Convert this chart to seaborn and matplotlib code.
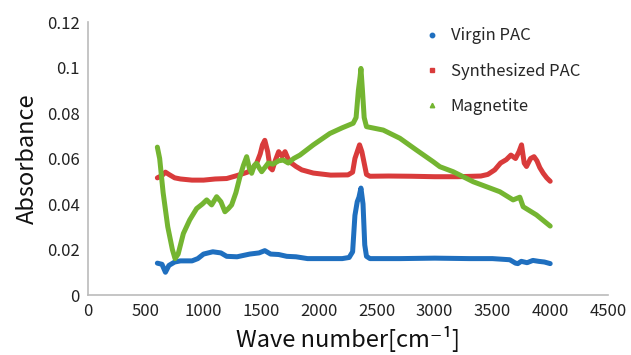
import numpy as np
import pandas as pd
import matplotlib
matplotlib.use("Agg")
import matplotlib.pyplot as plt
import seaborn as sns
from matplotlib.lines import Line2D

series_names = ["Virgin PAC", "Synthesized PAC", "Magnetite"]

blue_x = [600, 640, 670, 700, 750, 800, 900, 950, 1000, 1080, 1150, 1200, 1290, 1400, 1480, 1530, 1580,
          1650, 1720, 1800, 1900, 2000, 2100, 2200, 2260, 2290, 2310, 2330, 2345, 2362, 2380, 2395, 2410,
          2440, 2500, 2700, 3000, 3300, 3500, 3650, 3700, 3720, 3750, 3800, 3850, 3900, 3950, 4000]
blue_y = [0.014, 0.0135, 0.010, 0.013, 0.0145, 0.015, 0.015, 0.016, 0.018, 0.019, 0.0185, 0.017, 0.0168,
          0.018, 0.0185, 0.0195, 0.018, 0.0178, 0.017, 0.0168, 0.016, 0.016, 0.016, 0.016, 0.0165, 0.019,
          0.035, 0.041, 0.043, 0.047, 0.040, 0.022, 0.017, 0.016, 0.016, 0.016, 0.0162, 0.016, 0.016,
          0.0155, 0.014, 0.0138, 0.0148, 0.0142, 0.0152, 0.0148, 0.0145, 0.0138]

red_x = [600, 640, 670, 700, 750, 800, 900, 1000, 1100, 1200, 1290, 1380, 1420, 1460, 1490, 1510, 1530,
         1555, 1575, 1595, 1620, 1650, 1680, 1705, 1730, 1760, 1800, 1850, 1950, 2100, 2250, 2290, 2310,
         2330, 2350, 2370, 2390, 2410, 2440, 2600, 2800, 3000, 3200, 3400, 3460, 3520, 3570, 3620, 3660,
         3700, 3730, 3752, 3775, 3795, 3830, 3860, 3885, 3910, 3940, 3970, 4000]
red_y = [0.0515, 0.0525, 0.054, 0.053, 0.0515, 0.051, 0.0505, 0.0505, 0.051, 0.0512, 0.0525, 0.054,
         0.0555, 0.058, 0.062, 0.066, 0.068, 0.063, 0.056, 0.055, 0.059, 0.063, 0.061, 0.063, 0.060,
         0.058, 0.0565, 0.055, 0.0536, 0.0527, 0.0528, 0.054, 0.060, 0.063, 0.066, 0.063, 0.058, 0.053,
         0.0522, 0.0523, 0.0522, 0.052, 0.052, 0.0523, 0.053, 0.055, 0.058, 0.0595, 0.0615, 0.060,
         0.063, 0.066, 0.058, 0.0565, 0.060, 0.0608, 0.059, 0.056, 0.0535, 0.0515, 0.050]

green_x = [600, 620, 650, 690, 730, 753, 780, 825, 880, 940, 990, 1027, 1070, 1113, 1150, 1185, 1215,
           1243, 1280, 1315, 1345, 1373, 1395, 1416, 1440, 1459, 1480, 1503, 1530, 1560, 1600, 1650,
           1690, 1733, 1780, 1834, 1950, 2093, 2200, 2295, 2320, 2340, 2355, 2362, 2375, 2390, 2410,
           2555, 2699, 2843, 2987, 3045, 3160, 3333, 3564, 3679, 3737, 3766, 3881, 4000]
green_y = [0.065, 0.060, 0.045, 0.030, 0.020, 0.016, 0.018, 0.027, 0.033, 0.038, 0.040, 0.0418, 0.0396,
           0.0432, 0.041, 0.0366, 0.038, 0.0396, 0.045, 0.052, 0.057, 0.0608, 0.056, 0.0535, 0.057,
           0.0579, 0.056, 0.0542, 0.056, 0.058, 0.0575, 0.059, 0.0593, 0.058, 0.060, 0.0615, 0.066,
           0.071, 0.0735, 0.0755, 0.078, 0.090, 0.096, 0.0996, 0.090, 0.078, 0.074, 0.0725, 0.0689,
           0.0637, 0.0586, 0.0564, 0.0542, 0.0498, 0.0454, 0.0418, 0.043, 0.0388, 0.0352, 0.0303]

x_ticks = [0, 500, 1000, 1500, 2000, 2500, 3000, 3500, 4000, 4500]
y_ticks = [0, 0.02, 0.04, 0.06, 0.08, 0.1, 0.12]
y_tick_labels = ["0", "0.02", "0.04", "0.06", "0.08", "0.1", "0.12"]

colors = ["#1f6fbf", "#d93b3b", "#74b531"]
markers = ["o", "s", "^"]

df = pd.concat([
    pd.DataFrame({"x": blue_x, "y": blue_y, "series": series_names[0]}),
    pd.DataFrame({"x": red_x, "y": red_y, "series": series_names[1]}),
    pd.DataFrame({"x": green_x, "y": green_y, "series": series_names[2]}),
], ignore_index=True)

sns.set_style("white")
plt.rcParams["font.family"] = ["Noto Sans CJK KR", "DejaVu Sans"]

fig = plt.figure(figsize=(6.31, 3.55), dpi=100)
ax = fig.add_axes([0.1395, 0.169, 0.824, 0.769])

sns.lineplot(data=df, x="x", y="y", hue="series", hue_order=series_names,
             palette=colors, linewidth=3.6, sort=False, estimator=None, ax=ax, legend=False)

ax.set_xlim(0, 4500)
ax.set_ylim(0, 0.12)
ax.set_xticks(x_ticks)
ax.set_xticklabels([str(t) for t in x_ticks], fontsize=12, color="#222222")
ax.set_yticks(y_ticks)
ax.set_yticklabels(y_tick_labels, fontsize=12, color="#222222")
ax.tick_params(axis="x", direction="in", length=4, color="#aaaaaa", width=1, pad=6)
ax.tick_params(axis="y", length=0, pad=6)

for s in ["top", "right"]:
    ax.spines[s].set_visible(False)
for s in ["left", "bottom"]:
    ax.spines[s].set_color("#bbbbbb")
    ax.spines[s].set_linewidth(1.2)

ax.set_xlabel("Wave number[cm\u207b\u00b9]", fontsize=17, color="#111111", labelpad=4)
ax.set_ylabel("Absorbance", fontsize=17, color="#111111", labelpad=6)

handles = [Line2D([0], [0], linestyle="none", marker=m, color=c, markersize=3.2)
           for m, c in zip(markers, colors)]
ax.legend(handles, series_names, loc="upper right", bbox_to_anchor=(0.975, 1.035), frameon=False,
          fontsize=12, labelspacing=1.1, handletextpad=0.6, handlelength=1.0)

fig.savefig("out.png", dpi=100)
